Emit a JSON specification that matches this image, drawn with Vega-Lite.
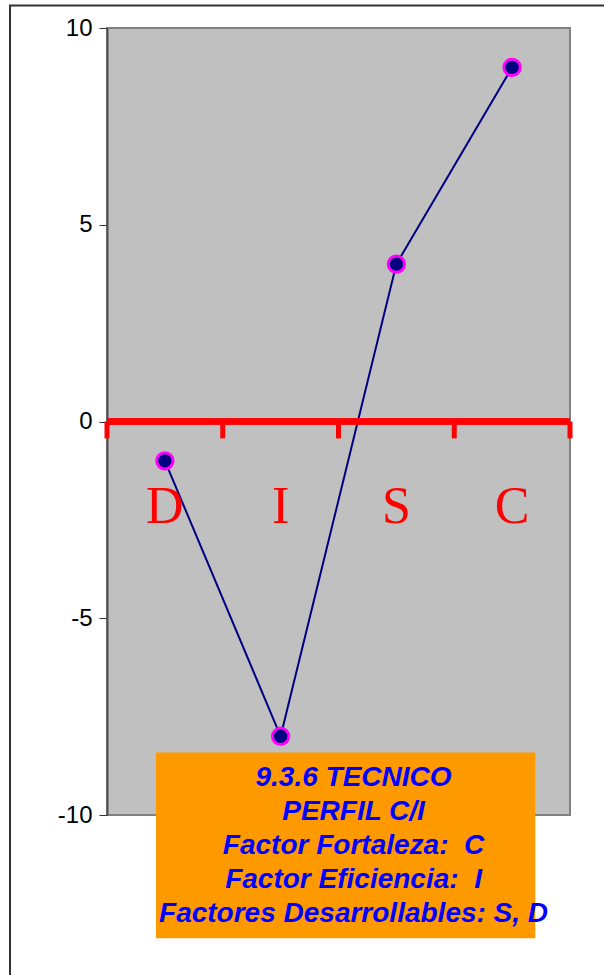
{
  "$schema": "https://vega.github.io/schema/vega-lite/v6.json",
  "width": 463,
  "height": 787,
  "autosize": {"type": "none"},
  "padding": {"left": 107, "top": 28, "right": 34, "bottom": 160},
  "background": "white",
  "config": {
    "font": "Liberation Sans",
    "view": {"fill": "#C0C0C0", "stroke": "#808080", "strokeWidth": 2},
    "axisY": {
      "grid": false,
      "labelFont": "Liberation Sans",
      "labelFontSize": 24,
      "labelColor": "#000000",
      "labelPadding": 7,
      "labelExpr": "'' + datum.value",
      "tickColor": "#333333",
      "tickSize": 8,
      "tickWidth": 1,
      "domainColor": "#505050",
      "domainWidth": 2
    }
  },
  "datasets": {
    "perfil": [
      {"factor": "D", "valor": -1},
      {"factor": "I", "valor": -8},
      {"factor": "S", "valor": 4},
      {"factor": "C", "valor": 9}
    ],
    "leyenda": [
      {"texto": "9.3.6 TECNICO\nPERFIL C/I\nFactor Fortaleza:\u00a0 C\nFactor Eficiencia:\u00a0 I\nFactores Desarrollables: S, D"}
    ]
  },
  "resolve": {"scale": {"x": "independent", "y": "independent"}},
  "layer": [
    {
      "data": {"name": "perfil"},
      "layer": [
        {
          "mark": {"type": "line", "color": "#000080", "strokeWidth": 2},
          "encoding": {
            "x": {"field": "factor", "type": "nominal", "sort": null, "scale": {"type": "band", "paddingInner": 0, "paddingOuter": 0}, "axis": null},
            "y": {"field": "valor", "type": "quantitative", "title": null, "scale": {"domain": [-10, 10], "nice": false, "zero": false}, "axis": {"values": [-10, -5, 0, 5, 10], "title": null}}
          }
        },
        {
          "mark": {"type": "rule", "color": "#FF0000", "strokeWidth": 6},
          "encoding": {
            "y": {"datum": 0, "type": "quantitative", "title": null}
          }
        },
        {
          "mark": {"type": "rule", "color": "#FF0000", "strokeWidth": 5, "strokeCap": "butt"},
          "encoding": {
            "x": {"field": "factor", "type": "nominal", "sort": null, "bandPosition": 0, "axis": null},
            "y": {"datum": 0, "type": "quantitative", "title": null},
            "y2": {"datum": -0.43}
          }
        },
        {
          "transform": [{"filter": "datum.factor === 'C'"}],
          "mark": {"type": "rule", "color": "#FF0000", "strokeWidth": 5, "strokeCap": "butt"},
          "encoding": {
            "x": {"field": "factor", "type": "nominal", "sort": null, "bandPosition": 1, "axis": null},
            "y": {"datum": 0, "type": "quantitative", "title": null},
            "y2": {"datum": -0.43}
          }
        },
        {
          "mark": {"type": "text", "font": "Liberation Serif", "fontSize": 52, "color": "#FF0000", "baseline": "alphabetic", "align": "center"},
          "encoding": {
            "x": {"field": "factor", "type": "nominal", "sort": null, "axis": null},
            "y": {"datum": -2.57, "type": "quantitative", "title": null},
            "text": {"field": "factor"}
          }
        },
        {
          "mark": {"type": "point", "shape": "circle", "filled": true, "fill": "#000080", "stroke": "#FF00FF", "strokeWidth": 3, "size": 270, "opacity": 1},
          "encoding": {
            "x": {"field": "factor", "type": "nominal", "sort": null, "axis": null},
            "y": {"field": "valor", "type": "quantitative", "title": null}
          }
        }
      ]
    },
    {
      "data": {"name": "leyenda"},
      "layer": [
        {
          "mark": {"type": "rect", "fillOpacity": 0, "stroke": "#333333", "strokeWidth": 2},
          "encoding": {
            "x": {"datum": -0.838, "type": "quantitative", "scale": {"domain": [0, 4], "nice": false, "zero": false}, "axis": null},
            "x2": {"datum": 6},
            "y": {"datum": 10.57, "type": "quantitative", "scale": {"domain": [-10, 10], "nice": false, "zero": false}, "axis": null},
            "y2": {"datum": -20}
          }
        },
        {
          "mark": {"type": "rect", "fill": "#FF9900"},
          "encoding": {
            "x": {"datum": 0.423, "type": "quantitative"},
            "x2": {"datum": 3.7},
            "y": {"datum": -8.41, "type": "quantitative"},
            "y2": {"datum": -13.13}
          }
        },
        {
          "mark": {"type": "text", "font": "Liberation Sans", "fontSize": 28, "fontWeight": "bold", "fontStyle": "italic", "color": "#0000FF", "align": "center", "baseline": "middle", "lineBreak": "\n", "lineHeight": 34},
          "encoding": {
            "x": {"datum": 2.13, "type": "quantitative"},
            "y": {"datum": -9.05, "type": "quantitative"},
            "text": {"field": "texto"}
          }
        }
      ]
    }
  ]
}
